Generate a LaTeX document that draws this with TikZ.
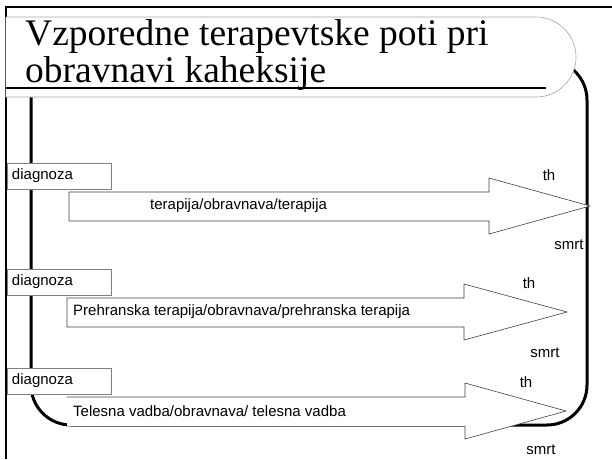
\documentclass[tikz,border=0pt]{standalone}
\usepackage{fontspec}
\setmainfont{Liberation Serif}
\setsansfont{Liberation Sans}
\begin{document}
\begin{tikzpicture}[x=1pt,y=-1pt,
    diag node/.style={rectangle,draw=black!50,fill=white,line width=0.6pt,
      minimum height=26pt,text width=94pt,inner xsep=5pt,inner ysep=0pt,
      font=\sffamily\fontsize{15}{17}\selectfont},
    path text/.style={anchor=west,inner sep=0pt,font=\sffamily\fontsize{15}{17}\selectfont},
    end label/.style={inner sep=0pt,font=\sffamily\fontsize{15}{17}\selectfont},
    title text/.style={anchor=base west,inner sep=0pt,font=\fontsize{37.5}{38}\selectfont},
    block arrow/.style={draw=black!75,fill=white,line width=0.6pt} ]
    \useasboundingbox (0,0) rectangle (612,459);
    % slide frame and bracket
    \draw [line width=2pt] (5.7,459) -- (5.7,6.5) -- (612,6.5);
    \draw [line width=3pt, rounded corners=40pt] (31,60) rectangle (587,425);
    % title
    \draw [draw=black!35, fill=white, line width=0.6pt, rounded corners=40pt]
      (5.7,17) -- (576,17) -- (576,97) -- (5.7,97);
    \draw [line width=2.5pt] (5.7,88) -- (546,88);
    \node at (25,45) [title text] (t1) {Vzporedne terapevtske poti pri};
    \node at (25,82) [title text] (t2) {obravnavi kaheksije};
    % first path
    \draw [block arrow] (69,192) -- (489,192) -- (489,178) -- (590,206)
      -- (489,234) -- (489,221) -- (69,221) -- cycle;
    \node at (59,176) [diag node] (d1) {diagnoza};
    \node at (150,206) [path text] (p1) {terapija/obravnava/terapija};
    \node at (549,175) [end label] (th1) {th};
    \node at (569,245) [end label] (s1) {smrt};
    % second path
    \draw [block arrow] (67,298) -- (464,298) -- (464,284) -- (567,312)
      -- (464,340) -- (464,327) -- (67,327) -- cycle;
    \node at (59,282) [diag node] (d2) {diagnoza};
    \node at (73,312) [path text] (p2) {Prehranska terapija/obravnava/prehranska terapija};
    \node at (529,283) [end label] (th2) {th};
    \node at (545,353) [end label] (s2) {smrt};
    % third path
    \fill [white] (67,397) -- (465,397) -- (465,383) -- (566,411)
      -- (465,439) -- (465,426) -- (67,426) -- cycle;
    \draw [block arrow, fill=none] (465,426) -- (465,439) -- (566,411)
      -- (465,383) -- (465,397) -- (67,397);
    \node at (59,381) [diag node] (d3) {diagnoza};
    \node at (73,411) [path text] (p3) {Telesna vadba/obravnava/ telesna vadba};
    \node at (526,382) [end label] (th3) {th};
    \node at (541,450) [end label] (s3) {smrt};
\end{tikzpicture}
\end{document}
